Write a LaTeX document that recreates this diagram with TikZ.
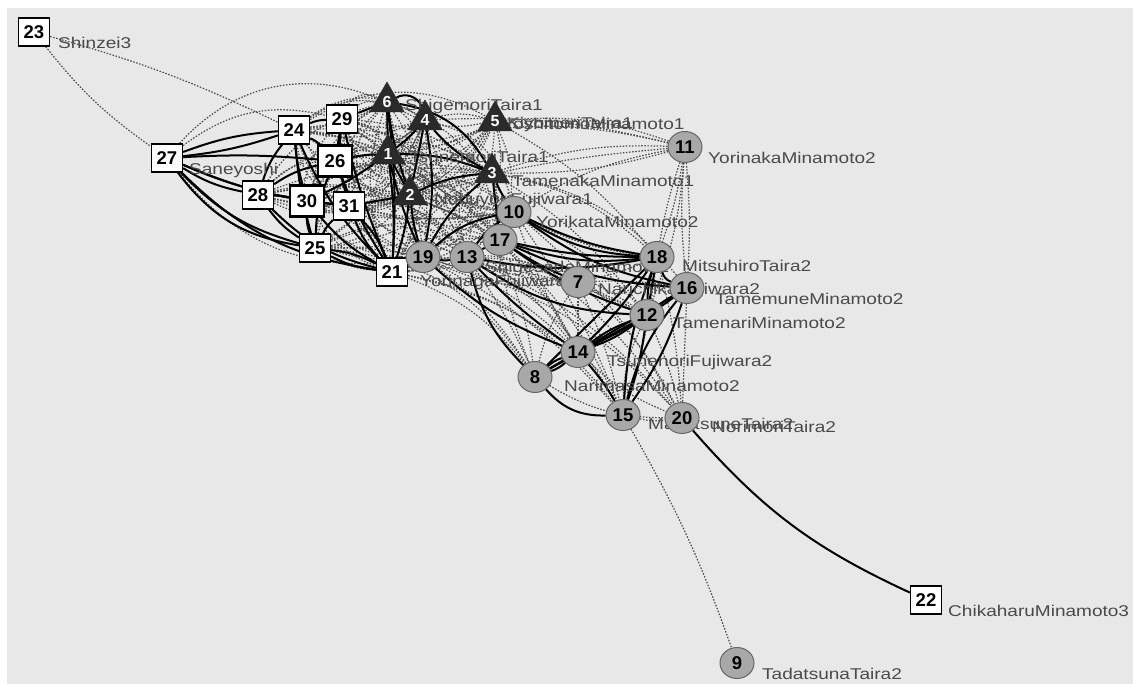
\documentclass[tikz,border=0pt]{standalone}
\usepackage{fontspec}
\setmainfont{Liberation Sans}
\newfontfamily\lblfont[FakeStretch=1.22]{Liberation Sans}
\usetikzlibrary{shapes.geometric}
\pgfdeclarelayer{bg}
\pgfdeclarelayer{edges}
\pgfdeclarelayer{lbl}
\pgfsetlayers{bg,edges,lbl,main}
\definecolor{canvas}{HTML}{E8E8E8}
\definecolor{circfill}{HTML}{A8A8A8}
\definecolor{lblgray}{HTML}{4A4A4A}
\definecolor{trifill}{HTML}{2A2A2A}
\tikzset{
  numfont/.style={font=\bfseries\fontsize{18.5}{18.5}\selectfont},
  sq/.style={rectangle, draw=black, line width=1.3pt, fill=white,
    minimum width=31pt, minimum height=28pt, inner sep=0pt, numfont},
  sqb/.style={sq, line width=2.4pt, minimum width=34pt, minimum height=31pt},
  tri/.style={regular polygon, regular polygon sides=3, fill=trifill,
    draw=trifill, minimum size=40pt, inner sep=0pt, text=white,
    font=\bfseries\fontsize{16}{16}\selectfont},
  circ/.style={ellipse, draw=black!60, line width=1pt, fill=circfill,
    minimum width=34pt, minimum height=31pt, inner sep=0pt, numfont},
  lbl/.style={anchor=west, text=lblgray, inner sep=0pt,
    font=\lblfont\fontsize{15.6}{16}\selectfont},
  strong/.style={draw=black, line width=2pt},
  weak/.style={draw=black!70, line width=1.2pt, dash pattern=on 1.5pt off 1.6pt}
}
\begin{document}
\begin{tikzpicture}[x=1pt,y=1pt]
\useasboundingbox (0,0) rectangle (1133,-684);
\begin{pgfonlayer}{bg}
  \fill[white] (0,0) rectangle (1133,-684);
  \fill[canvas] (7,-8) rectangle (1133,-684);
\end{pgfonlayer}

% square nodes
\node[sq]  (n23) at (34,-32)  {23};
\node[sq]  (n27) at (167,-158) {27};
\node[sq]  (n24) at (294,-130) {24};
\node[sq]  (n29) at (342,-119) {29};
\node[sqb] (n26) at (335,-161) {26};
\node[sq]  (n28) at (258,-195) {28};
\node[sqb] (n30) at (307,-201) {30};
\node[sq]  (n31) at (349,-206) {31};
\node[sq]  (n25) at (315,-248) {25};
\node[sq]  (n21) at (392,-272) {21};
\node[sq]  (n22) at (926,-600) {22};
% triangle nodes
\node[tri] (n6) at (387,-102) {6};
\node[tri] (n4) at (425,-120) {4};
\node[tri] (n5) at (495,-121) {5};
\node[tri] (n1) at (388,-154) {1};
\node[tri] (n2) at (410,-195) {2};
\node[tri] (n3) at (492,-173) {3};
% circle nodes
\node[circ] (n11) at (685,-147) {11};
\node[circ] (n10) at (514,-212) {10};
\node[circ] (n17) at (500,-240) {17};
\node[circ] (n19) at (423,-257) {19};
\node[circ] (n13) at (467,-257) {13};
\node[circ] (n18) at (657,-257) {18};
\node[circ] (n7)  at (578,-282) {7};
\node[circ] (n16) at (687,-288) {16};
\node[circ] (n12) at (647,-315) {12};
\node[circ] (n14) at (578,-352) {14};
\node[circ] (n8)  at (535,-377) {8};
\node[circ] (n15) at (623,-415) {15};
\node[circ] (n20) at (682,-418) {20};
\node[circ] (n9)  at (737,-663) {9};

% names
\begin{pgfonlayer}{lbl}
\node[lbl] (t23) at (58,-43)   {Shinzei3};
\node[lbl] (t27) at (189,-170) {Saneyoshi};
\node[lbl] (t6)  at (405,-106) {ShigemoriTaira1};
\node[lbl] (t5)  at (507,-124) {KiyomoriTaira1};
\node[lbl] (t4)  at (502,-124) {YoshitomoMinamoto1};
\node[lbl] (t1)  at (409,-157) {TsunemoriTaira1};
\node[lbl] (t3)  at (512,-181) {TamenakaMinamoto1};
\node[lbl] (t2)  at (434,-200) {NobuyoriFujiwara1};
\node[lbl] (t11) at (708,-158) {YorinakaMinamoto2};
\node[lbl] (t10) at (536,-222) {YorikataMinamoto2};
\node[lbl] (t13) at (485,-268) {ShigesadaMinamoto2};
\node[lbl] (t19) at (420,-282) {YorinagaFujiwara2};
\node[lbl] (t18) at (682,-266) {MitsuhiroTaira2};
\node[lbl] (t7)  at (598,-290) {NarichikaFujiwara2};
\node[lbl] (t16) at (715,-299) {TamemuneMinamoto2};
\node[lbl] (t12) at (673,-323) {TamenariMinamoto2};
\node[lbl] (t14) at (607,-362) {TsunenoriFujiwara2};
\node[lbl] (t8)  at (564,-386) {NarimasaMinamoto2};
\node[lbl] (t15) at (648,-424) {MasatsuneTaira2};
\node[lbl] (t20) at (712,-427) {NorimoriTaira2};
\node[lbl] (t22) at (948,-611) {ChikaharuMinamoto3};
\node[lbl] (t9)  at (762,-674) {TadatsunaTaira2};
\end{pgfonlayer}

\begin{pgfonlayer}{edges}
% weak (dotted) ties
\draw[weak] (n23) to[bend left=5] (n24);
\draw[weak] (n23) to[bend right=8] (n27);
\draw[weak] (n15) to[bend left=5] (n9);
% dense web between the left blocks and the triangle group
\foreach \a in {n24,n29,n26,n30,n31,n25,n21,n28}
  \foreach \b/\c in {n6/20,n4/-15,n1/25,n2/-20,n3/15,n19/-25,n13/30,n10/-10,n17/20,n5/-30}
    \draw[weak] (\a) to[bend left=\c] (\b);
\foreach \a/\b/\c in {
  n24/n6/-10, n24/n4/35, n24/n5/30, n29/n6/45, n29/n4/-40, n29/n1/-30,
  n26/n10/40, n26/n19/10, n30/n13/-40, n31/n17/-20, n31/n10/35,
  n24/n31/-25, n24/n30/30, n29/n31/20, n29/n25/-30, n28/n26/20,
  n28/n31/-20, n24/n19/40, n6/n10/-35, n6/n17/30, n4/n19/-20,
  n4/n13/25, n4/n17/-15, n1/n13/20, n1/n10/-30, n5/n19/40, n5/n13/-25,
  n5/n17/20, n2/n10/35, n2/n17/-20, n3/n13/30, n6/n5/-20, n4/n5/15,
  n1/n5/-10, n6/n13/-30, n1/n17/15, n6/n19/20, n4/n10/30, n1/n3/-35,
  n2/n13/-30, n6/n2/40, n4/n2/-35, n27/n6/35, n27/n19/-30, n27/n29/25,
  n11/n5/-12, n11/n3/-10, n11/n3/8, n11/n2/-5, n11/n10/-10, n11/n18/5,
  n11/n16/-5, n11/n12/8, n11/n1/-15, n11/n4/-8, n11/n18/-4, n11/n16/4,
  n21/n8/15, n19/n8/10, n13/n8/5, n21/n14/10, n19/n15/10, n13/n15/15,
  n17/n15/10, n10/n14/-5, n10/n12/10, n10/n20/10, n17/n20/10, n7/n14/0,
  n7/n8/-10, n7/n15/5, n7/n20/10, n7/n12/-5, n13/n7/-10, n19/n7/-15,
  n18/n20/5, n16/n20/0, n12/n20/5, n14/n20/-10, n8/n20/-15, n15/n20/-10,
  n1/n8/25, n2/n14/20, n3/n12/10, n5/n18/10, n3/n18/15, n3/n16/20,
  n10/n18/-10, n21/n7/20, n25/n8/25, n31/n14/20, n21/n15/20, n19/n20/15,
  n13/n12/15, n17/n14/5, n12/n15/-12, n18/n15/5, n7/n18/-5, n7/n16/5,
  n19/n12/12, n21/n12/15, n25/n14/22, n13/n20/12, n17/n8/-8, n10/n15/6}
  \draw[weak] (\a) to[bend left=\c] (\b);

% strong (solid) ties
\foreach \a/\b/\c in {
  n27/n24/8, n27/n24/-6, n27/n26/4, n27/n28/-10, n27/n30/-6, n27/n25/-15,
  n27/n25/-22, n27/n21/-18, n27/n31/-8, n24/n28/-10, n24/n30/-5, n24/n25/-5,
  n24/n21/-10, n24/n26/10, n29/n26/0, n29/n21/-5, n26/n28/-10, n26/n25/-10,
  n26/n21/-5, n28/n30/5, n28/n25/-10, n28/n21/-15, n30/n25/-10, n30/n21/-10,
  n30/n31/0, n31/n25/-10, n31/n21/-10, n31/n21/10, n25/n21/10, n25/n21/-10,
  n26/n31/5, n29/n31/-10, n24/n29/10,
  n6/n4/50, n6/n3/25, n6/n1/0, n6/n2/-5, n4/n1/5, n4/n2/0, n4/n3/-10,
  n1/n2/0, n1/n3/10, n1/n21/5, n1/n19/-5, n2/n19/-5, n2/n3/10, n3/n10/-5,
  n3/n19/-10, n6/n21/5, n2/n21/5, n4/n19/10, n3/n17/0, n26/n1/5, n29/n6/0,
  n31/n2/0, n30/n1/-5,
  n19/n13/-10, n13/n17/0, n13/n10/10, n19/n10/15, n17/n10/0,
  n10/n18/-8, n10/n18/-14, n17/n18/-6, n17/n18/-12, n13/n18/-10,
  n17/n16/-10, n10/n16/-12, n13/n12/-15, n13/n14/-5, n13/n8/-15,
  n19/n14/-10, n17/n12/-8, n18/n16/-25, n18/n12/0, n18/n12/-8, n18/n14/5,
  n18/n15/-8, n18/n8/0, n16/n14/5, n16/n8/0, n16/n15/-12, n16/n15/8,
  n16/n12/-5, n12/n14/8, n12/n14/-8, n12/n8/0, n12/n15/5, n14/n8/10,
  n14/n8/-10, n14/n15/5, n8/n15/-25, n17/n7/-5, n20/n22/-12}
  \draw[strong] (\a) to[bend left=\c] (\b);
\end{pgfonlayer}
\end{tikzpicture}
\end{document}
